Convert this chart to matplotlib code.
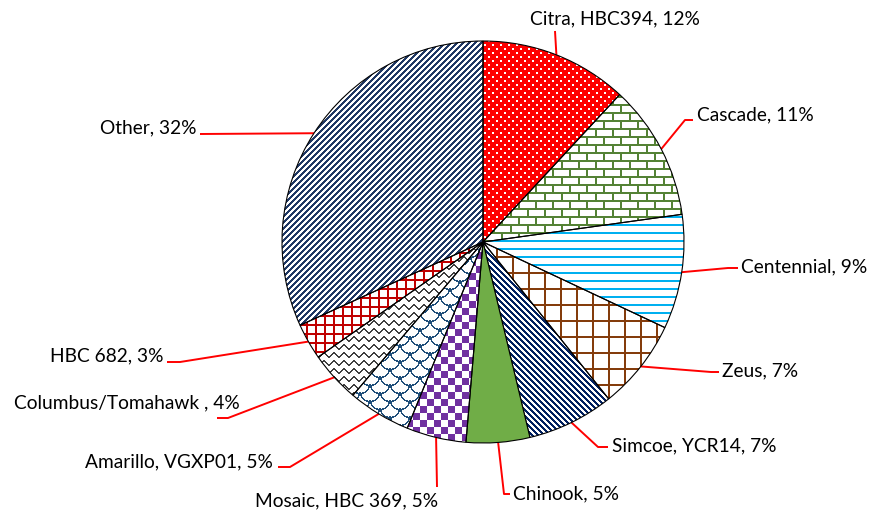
import numpy as np
import matplotlib
matplotlib.use('Agg')
import matplotlib.pyplot as plt
from matplotlib.colors import to_rgb

W, H = 874, 512

# slice data, clockwise from 12 o'clock
hops = ['Citra, HBC394', 'Cascade', 'Centennial', 'Zeus', 'Simcoe, YCR14', 'Chinook',
        'Mosaic, HBC 369', 'Amarillo, VGXP01', 'Columbus/Tomahawk ', 'HBC 682', 'Other']
shares = [11.9, 10.9, 9.2, 7.25, 7.0, 5.1, 4.8, 5.05, 4.1, 2.9, 31.8]

# pattern colour / background colour per slice
fg_colors = ['#FFFFFF', '#548235', '#00B0F0', '#843C0C', '#002060', '#70AD47',
             '#7030A0', '#1F4E79', '#404040', '#C00000', '#203864']
bg_colors = ['#FF0000', 'white', 'white', 'white', 'white', '#70AD47',
             'white', 'white', 'white', 'white', 'white']

# label layout (pixels): text anchor, alignment, leader elbow points
text_pos = [(615, 19, 'center'), (697, 115, 'left'), (741, 267, 'left'), (722, 371, 'left'),
            (612, 446, 'left'), (513, 494, 'left'), (438, 501, 'right'), (273, 462, 'right'),
            (240, 403, 'right'), (163, 356, 'right'), (196, 128, 'right')]
leader_pts = [[(555, 31)], [(685, 120), (693, 120)], [(728, 268), (738, 268)],
              [(711, 372), (719, 372)], [(598, 447), (608, 447)], [(504, 494), (510, 494)],
              [(437, 487)], [(290, 467), (278, 467)], [(228, 418), (217, 418)],
              [(180, 362), (167, 362)], [(200, 134)]]

CX, CY, R = 483, 242, 201


# ---- small bitmap tiles for the Excel-like fill patterns ----
def t_dots():
    t = np.zeros((8, 8), bool)
    t[0:2, 0:2] = True
    t[4:6, 4:6] = True
    return t


def t_bricks():
    t = np.zeros((16, 17), bool)
    t[0:2, :] = True
    t[8:10, :] = True
    t[0:8, 0:2] = True
    t[8:16, 8:10] = True
    return t


def t_hlines():
    t = np.zeros((8, 1), bool)
    t[0:2] = True
    return t


def t_grid(p, w):
    t = np.zeros((p, p), bool)
    t[:w, :] = True
    t[:, :w] = True
    return t


def t_diag(p, w, up):
    r, c = np.mgrid[0:p, 0:p]
    return ((r + c) % p < w) if up else ((c - r) % p < w)


def t_checker(s):
    r, c = np.mgrid[0:2 * s, 0:2 * s]
    return (r // s + c // s) % 2 == 0


def t_zigzag():
    ys = [3, 2, 1, 0, 0, 1, 2, 3, 4, 4]
    t = np.zeros((8, len(ys)), bool)
    for c, y in enumerate(ys):
        t[y:y + 2, c] = True
    return t


def t_scales():
    th, tw = 16, 20
    r, c = np.mgrid[0:th, 0:tw] + 0.5
    t = np.zeros((th, tw), bool)
    for k in range(-2, 3):
        for m in range(-1, 3):
            for cr, cc in [(k * th, m * tw), (k * th + th / 2, m * tw + tw / 2)]:
                d = np.hypot(r - cr, c - cc)
                t |= (np.abs(d - 9.5) < 0.7) & (r >= cr)
    return t


tiles = [t_dots(), t_bricks(), t_hlines(), t_grid(16, 2), t_diag(6, 3, False), None,
         t_checker(7), t_scales(), t_zigzag(), t_grid(9, 2), t_diag(6, 3, True)]


def texture(tile, fg, bg):
    reps = (H // tile.shape[0] + 1, W // tile.shape[1] + 1)
    mask = np.tile(tile, reps)[:H, :W]
    return np.where(mask[..., None], np.array(to_rgb(fg)), np.array(to_rgb(bg)))


plt.rcParams['font.family'] = ['Lato', 'DejaVu Sans']

fig = plt.figure(figsize=(W / 100, H / 100), dpi=100)
ax = fig.add_axes([0, 0, 1, 1])

wedges, _ = ax.pie(shares, startangle=-90, counterclock=True, center=(CX, CY), radius=R,
                   colors=bg_colors,
                   wedgeprops=dict(edgecolor='black', linewidth=0.8))

for w, tile, fg, bg in zip(wedges, tiles, fg_colors, bg_colors):
    w.set_zorder(3)
    if tile is None:
        continue
    w.set_facecolor('none')
    im = ax.imshow(texture(tile, fg, bg), extent=(0, W, H, 0), interpolation='nearest',
                   aspect='auto', zorder=1)
    im.set_clip_path(w)

for w, name, val, (tx, ty, ha), pts in zip(wedges, hops, shares, text_pos, leader_pts):
    mid = np.deg2rad((w.theta1 + w.theta2) / 2)
    px, py = CX + R * np.cos(mid), CY + R * np.sin(mid)
    xs = [px] + [p[0] for p in pts]
    ys = [py] + [p[1] for p in pts]
    ax.plot(xs, ys, color='red', lw=1.4, zorder=2, solid_capstyle='butt')
    ax.text(tx, ty, f'{name}, {round(val)}%', ha=ha, va='center', fontsize=13.8, color='black')

ax.set_xlim(0, W)
ax.set_ylim(H, 0)
ax.axis('off')

fig.savefig('out.png', dpi=100, facecolor='white')
